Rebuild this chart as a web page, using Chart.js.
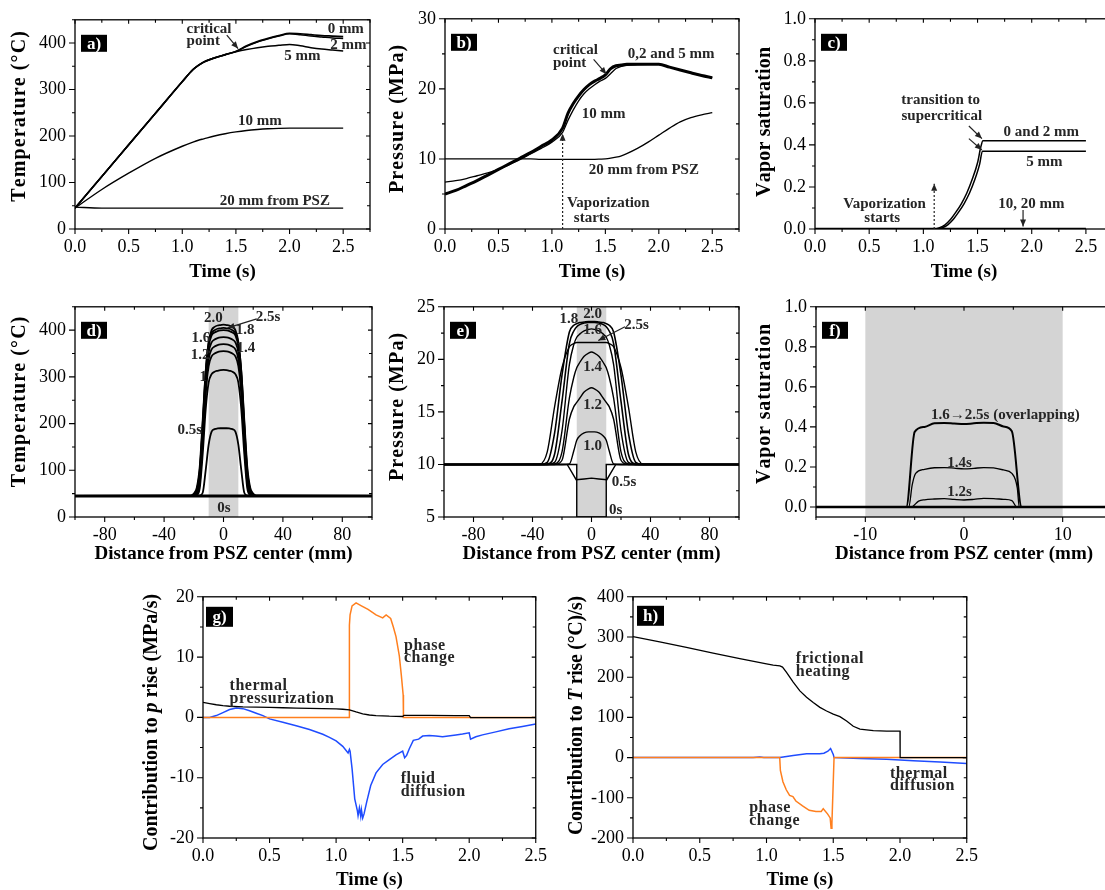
<!DOCTYPE html>
<html>
<head>
<meta charset="utf-8">
<script src="https://cdn.jsdelivr.net/npm/chart.js@4.4.1/dist/chart.umd.min.js"></script>
<style>
  body { margin: 0; background: #fff; width: 1105px; height: 890px; overflow: hidden; position: relative; }
  canvas { position: absolute; }
</style>
</head>
<body>
<canvas id="pa"></canvas><canvas id="pb"></canvas><canvas id="pc"></canvas>
<canvas id="pd"></canvas><canvas id="pe"></canvas><canvas id="pf"></canvas>
<canvas id="pg"></canvas><canvas id="ph"></canvas>
<script>
// ---- a) temperature vs time at several distances from the PSZ
const timeTicks = [0, 0.5, 1.0, 1.5, 2.0, 2.5];
const tA = [0, 0.25, 0.5, 0.75, 1.0, 1.1, 1.15, 1.2, 1.3, 1.4, 1.5, 1.6, 1.7, 1.8, 1.9, 2.0, 2.1, 2.2, 2.3, 2.4, 2.5];
const tempA0 = [45, 113, 181, 249, 317, 343, 352, 359, 368, 375, 382, 394, 403, 410, 416, 421, 420, 418, 416, 415, 414];
const tempA2 = [45, 113, 181, 249, 317, 343, 352, 359, 368, 375, 382, 393, 402, 409, 415, 420, 418, 415, 413, 411, 410];
const tempA5 = [45, 113, 181, 249, 317, 343, 352, 359, 368, 375, 381, 386, 390, 393, 395, 397, 394, 390, 387, 385, 383];
const tempA10 = [45, 85, 120, 152, 178, 187, 191, 194, 200, 205, 209, 212, 214, 215.5, 216.5, 217, 217, 217, 217, 217, 217];
const tempA20 = [47, 45, 45, 45, 45, 45, 45, 45, 45, 45, 45, 45, 45, 45, 45, 45, 45, 45, 45, 45, 45];
const tempTicks = [0, 100, 200, 300, 400];

// ---- b) pressure vs time
const tB = [0, 0.1, 0.2, 0.3, 0.4, 0.5, 0.6, 0.7, 0.8, 0.9, 1.0, 1.1, 1.15, 1.2, 1.25, 1.3, 1.35, 1.4, 1.45, 1.5, 1.55, 1.6, 1.65, 1.7, 1.8, 1.9, 2.0, 2.1, 2.2, 2.3, 2.4, 2.5];
const presB0 = [5.0, 5.5, 6.2, 6.9, 7.7, 8.5, 9.3, 10.1, 10.9, 11.8, 12.7, 14.4, 16.5, 17.9, 19.0, 19.9, 20.6, 21.1, 21.5, 22.0, 22.9, 23.3, 23.4, 23.5, 23.5, 23.5, 23.5, 23.1, 22.7, 22.3, 21.9, 21.6];
const presB10 = [6.7, 6.9, 7.2, 7.6, 8.0, 8.5, 9.2, 9.9, 10.7, 11.5, 12.4, 13.8, 15.5, 17.0, 18.3, 19.3, 20.0, 20.6, 21.1, 21.5, 22.2, 22.9, 23.2, 23.35, 23.45, 23.5, 23.5, 23.1, 22.7, 22.3, 21.9, 21.6];
const presB20 = [10, 10, 10, 10, 10, 10, 10, 10, 10, 9.95, 9.95, 9.95, 9.95, 9.95, 9.95, 9.95, 9.95, 9.95, 9.97, 10.0, 10.1, 10.25, 10.45, 10.75, 11.5, 12.4, 13.4, 14.4, 15.3, 15.9, 16.3, 16.6];
const presTicks = [0, 10, 20, 30];

// ---- c) vapor saturation vs time
const tC0 = [0, 1.1, 1.15, 1.2, 1.25, 1.3, 1.35, 1.4, 1.45, 1.5, 1.53, 1.55, 2.5];
const satC0 = [0, 0, 0.006, 0.02, 0.045, 0.08, 0.12, 0.17, 0.235, 0.315, 0.39, 0.42, 0.42];
const tC5 = [0, 1.125, 1.175, 1.225, 1.275, 1.325, 1.375, 1.425, 1.475, 1.52, 1.545, 2.5];
const satC5 = [0, 0, 0.006, 0.02, 0.045, 0.08, 0.12, 0.17, 0.235, 0.31, 0.37, 0.37];
const tC10 = [0, 2.5];
const satC10 = [0, 0];
const satTicks = [0, 0.2, 0.4, 0.6, 0.8, 1.0];

// ---- d) temperature profiles across the PSZ
const distD = [-100, -22, -20, -18, -16, -14, -12, -10, -8, -6, -4, -2, 0, 2, 4, 6, 8, 10, 12, 14, 16, 18, 20, 22, 100];
const profD00 = [45, 45, 45, 45, 45, 45, 45, 45, 45, 45, 45, 45, 45, 45, 45, 45, 45, 45, 45, 45, 45, 45, 45, 45, 45];
const profD05 = [45, 45, 45, 45, 46, 52, 100, 155, 183, 188, 189.5, 190, 190, 190, 189.5, 188, 183, 155, 100, 52, 46, 45, 45, 45, 45];
const profD10 = [45, 45, 45, 47, 62, 135, 230, 288, 306, 311, 313, 314.5, 315, 314.5, 313, 311, 306, 288, 230, 135, 62, 47, 45, 45, 45];
const profD12 = [45, 45, 46, 49, 72, 160, 262, 323, 344, 350, 353, 354.5, 355, 354.5, 353, 350, 344, 323, 262, 160, 72, 49, 46, 45, 45];
const profD14 = [45, 45, 46, 51, 80, 172, 276, 338, 359, 365, 368, 369.5, 370, 369.5, 368, 365, 359, 338, 276, 172, 80, 51, 46, 45, 45];
const profD16 = [45, 45, 47, 54, 88, 182, 288, 352, 374, 380, 383, 384.5, 385, 384.5, 383, 380, 374, 352, 288, 182, 88, 54, 47, 45, 45];
const profD18 = [45, 45, 47, 56, 95, 192, 300, 365, 389, 395, 398, 399.5, 400, 399.5, 398, 395, 389, 365, 300, 192, 95, 56, 47, 45, 45];
const profD20 = [45, 45, 48, 58, 100, 200, 310, 375, 400, 407, 410, 411, 412, 411, 410, 407, 400, 375, 310, 200, 100, 58, 48, 45, 45];
const profD25 = [45, 46, 50, 63, 108, 208, 312, 372, 394, 400, 403, 404, 405, 404, 403, 400, 394, 372, 312, 208, 108, 63, 50, 46, 45];
const distTicks = [-80, -40, 0, 40, 80];
const pszBand = [-10, 10];

// ---- e) pressure profiles across the PSZ
const distE = [-100, -35, -30, -25, -20, -15, -12, -10, -8, -5, -2, 0, 2, 5, 8, 10, 12, 15, 20, 25, 30, 35, 100];
const profE10 = [10, 10, 10, 10, 10, 10.05, 11.3, 12.3, 12.7, 13.0, 13.1, 13.1, 13.1, 13.0, 12.7, 12.3, 11.3, 10.05, 10, 10, 10, 10, 10];
const profE12 = [10, 10, 10, 10, 10.4, 14.3, 15.5, 15.9, 16.3, 16.9, 17.2, 17.3, 17.2, 16.9, 16.3, 15.9, 15.5, 14.3, 10.4, 10, 10, 10, 10];
const profE14 = [10, 10, 10, 10.05, 11.2, 16.3, 18.3, 19.2, 19.7, 20.3, 20.6, 20.7, 20.6, 20.3, 19.7, 19.2, 18.3, 16.3, 11.2, 10.05, 10, 10, 10];
const profE16 = [10, 10, 10, 10.2, 13.2, 19.5, 21.4, 22.1, 22.4, 22.7, 22.85, 22.9, 22.85, 22.7, 22.4, 22.1, 21.4, 19.5, 13.2, 10.2, 10, 10, 10];
const profE18 = [10, 10, 10.05, 11.0, 16.0, 21.5, 22.7, 23.1, 23.3, 23.45, 23.5, 23.5, 23.5, 23.45, 23.3, 23.1, 22.7, 21.5, 16.0, 11.0, 10.05, 10, 10];
const profE20 = [10, 10, 10.2, 13.0, 18.5, 22.6, 23.25, 23.4, 23.5, 23.55, 23.6, 23.6, 23.6, 23.55, 23.5, 23.4, 23.25, 22.6, 18.5, 13.0, 10.2, 10, 10];
const profE25 = [10, 10.05, 11.2, 15.5, 19.2, 21.2, 21.5, 21.6, 21.6, 21.6, 21.6, 21.6, 21.6, 21.6, 21.6, 21.6, 21.5, 21.2, 19.2, 15.5, 11.2, 10.05, 10];
const distE05 = [-100, -16.5, -13.5, -10.4, -5, 0, 5, 10.4, 13.5, 16.5, 100];
const profE05 = [10, 10, 9.3, 8.55, 8.62, 8.7, 8.62, 8.55, 9.3, 10, 10];
const distE00 = [-100, -10, -10, 10, 10, 100];
const profE00 = [10, 10, 5, 5, 10, 10];
const presTicksE = [5, 10, 15, 20, 25];

// ---- f) vapor saturation profiles
const distF16 = [-15, -5.85, -5.0, -4.0, -3.0, -2.0, -1.0, 0, 1.0, 2.0, 3.0, 4.0, 4.85, 5.85, 15];
const satF16 = [0, 0, 0.375, 0.4, 0.418, 0.42, 0.417, 0.414, 0.418, 0.421, 0.42, 0.402, 0.378, 0, 0];
const distF14 = [-15, -5.6, -5.25, -4.9, -4, -3, -2, -1, 0, 1, 2, 3, 4, 4.85, 5.4, 5.6, 15];
const satF14 = [0, 0, 0.11, 0.168, 0.188, 0.196, 0.197, 0.194, 0.19, 0.193, 0.197, 0.195, 0.185, 0.168, 0.096, 0, 0];
const distF12 = [-15, -5.35, -4.6, -4, -3, -2, -1, 0, 1, 2, 3, 4, 4.85, 5.35, 15];
const satF12 = [0, 0, 0.029, 0.036, 0.04, 0.042, 0.038, 0.035, 0.038, 0.043, 0.042, 0.038, 0.032, 0, 0];
const distF00 = [-15, 15];
const satF00 = [0, 0];
const distTicksF = [-10, 0, 10];

// ---- g) contributions to pressure rise
const tThermG = [0, 0.05, 0.1, 0.15, 0.2, 0.3, 0.4, 0.5, 0.6, 0.7, 0.8, 0.9, 1.0, 1.05, 1.1, 1.15, 1.2, 1.25, 1.3, 1.4, 1.5, 1.51, 1.7, 1.9, 2.0, 2.01, 2.2, 2.5];
const thermG = [2.5, 2.3, 2.1, 1.95, 1.85, 1.75, 1.7, 1.65, 1.6, 1.55, 1.5, 1.45, 1.4, 1.35, 1.25, 0.9, 0.6, 0.4, 0.3, 0.2, 0.15, 0.35, 0.35, 0.3, 0.3, -0.05, -0.05, -0.05];
const tPhaseG = [0, 1.098, 1.1, 1.105, 1.12, 1.15, 1.19, 1.24, 1.3, 1.35, 1.376, 1.41, 1.43, 1.45, 1.475, 1.49, 1.504, 1.506, 2.5];
const phaseG = [0, 0, 15.3, 17.0, 18.5, 19.0, 18.5, 17.9, 17.0, 16.5, 17.0, 16.4, 15.0, 13.4, 10.2, 7.0, 3.7, 0, 0];
const tFluidG = [0, 0.05, 0.1, 0.15, 0.2, 0.25, 0.3, 0.35, 0.4, 0.45, 0.5, 0.6, 0.7, 0.8, 0.9, 0.95, 1.0, 1.05, 1.09, 1.1, 1.105, 1.12, 1.14, 1.16, 1.165, 1.175, 1.185, 1.19, 1.2, 1.21, 1.23, 1.26, 1.3, 1.35, 1.4, 1.45, 1.5, 1.515, 1.53, 1.55, 1.58, 1.62, 1.65, 1.7, 1.75, 1.8, 1.9, 1.95, 2.0, 2.01, 2.05, 2.1, 2.2, 2.3, 2.4, 2.5];
const fluidG = [0, 0, 0.3, 0.8, 1.3, 1.55, 1.45, 1.1, 0.7, 0.3, -0.25, -0.8, -1.4, -2.0, -2.8, -3.3, -3.9, -4.8, -5.9, -5.3, -5.6, -8.5, -13.5, -15.5, -16.3, -15.0, -16.4, -15.3, -16.7, -16.0, -14.0, -11.3, -9.2, -7.8, -7.0, -6.2, -5.6, -6.7, -6.3, -5.2, -3.8, -3.6, -3.1, -3.0, -3.1, -3.2, -2.9, -2.75, -2.55, -3.6, -3.2, -2.9, -2.4, -1.9, -1.5, -1.1];
const rateTicksG = [-20, -10, 0, 10, 20];

// ---- h) contributions to temperature rise
const tFricH = [0, 0.2, 0.4, 0.6, 0.8, 1.0, 1.05, 1.1, 1.12, 1.15, 1.2, 1.25, 1.3, 1.35, 1.4, 1.45, 1.5, 1.55, 1.6, 1.65, 1.7, 1.8, 1.9, 2.0, 2.001, 2.5];
const fricH = [301, 288, 274, 260, 246, 233, 230, 228, 225, 212, 188, 166, 150, 137, 125, 116, 108, 102, 91, 78, 71, 67, 66, 66, 0, 0];
const tPhaseH = [0, 1.099, 1.104, 1.123, 1.148, 1.173, 1.198, 1.22, 1.27, 1.32, 1.37, 1.41, 1.425, 1.457, 1.477, 1.484, 1.49, 1.506, 2.5];
const phaseH = [0, 0, -32, -60, -80, -94, -97, -108, -120, -131, -134, -134, -127, -140, -150, -176, -164, 0, 0];
const tDiffH = [0, 0.5, 0.9, 0.95, 0.98, 1.0, 1.1, 1.2, 1.3, 1.4, 1.43, 1.46, 1.48, 1.5, 1.506, 1.7, 1.9, 2.1, 2.3, 2.5];
const diffH = [0, 0, 0, 1.5, 0.5, 0, 0, 5.5, 9.5, 9.6, 11, 16, 22.5, 8, 0, -2, -4, -8, -11, -14.5];
const rateTicksH = [-200, -100, 0, 100, 200, 300, 400];

const SERIF = "'Liberation Serif', 'Times New Roman', serif";
const ORANGE = '#ff7f1e';
const BLUE = '#1f4cff';

function xy(xs, ys) {
    return xs.map((x, i) => ({x: x, y: ys[i]}));
}

function line(xs, ys, color, width, smooth) {
    return {
        data: xy(xs, ys),
        borderColor: color,
        borderWidth: width,
        pointRadius: 0,
        fill: false,
        tension: 0,
        cubicInterpolationMode: smooth ? 'monotone' : 'default'
    };
}

function minors(vals, min, max) {
    const out = [];
    const step = vals[1] - vals[0];
    for (let v = vals[0] - step / 2; v <= max + 1e-9; v += step) {
        if (v >= min - 1e-9) out.push(v);
    }
    return out;
}

// draws text char by char so letter spacing can be set
function spaced(ctx, text, x, y, gap, align) {
    if (!gap) {
        ctx.textAlign = align;
        ctx.fillText(text, x, y);
        return;
    }
    const chars = [...text];
    const w = chars.reduce((s, c) => s + ctx.measureText(c).width, 0) + gap * (chars.length - 1);
    let cx = align === 'center' ? x - w / 2 : (align === 'right' ? x - w : x);
    ctx.textAlign = 'left';
    chars.forEach(c => {
        ctx.fillText(c, cx, y);
        cx += ctx.measureText(c).width + gap;
    });
}

// rotated title made of segments, some italic, stretched a little towards a given length
function drawTitle(ctx, segs, len) {
    const parts = [];
    segs.forEach(s => {
        const font = (s.it ? 'italic bold 20px ' : 'bold 20px ') + SERIF;
        ctx.font = font;
        [...s.t].forEach(c => parts.push({c: c, font: font, w: ctx.measureText(c).width}));
    });
    const natural = parts.reduce((s, p) => s + p.w, 0);
    let gap = len ? (len - natural) / (parts.length - 1) : 0;
    gap = Math.max(-0.3, Math.min(gap, 1.1));
    let cx = -(natural + gap * (parts.length - 1)) / 2;
    ctx.textAlign = 'left';
    parts.forEach(p => {
        ctx.font = p.font;
        ctx.fillText(p.c, cx, 0);
        cx += p.w + gap;
    });
}

const deco = {
    id: 'deco',
    beforeDatasetsDraw(chart, args, o) {
        if (!o.band) return;
        const {ctx, chartArea: ca} = chart;
        const sx = chart.scales.x;
        const x1 = Math.max(sx.getPixelForValue(o.band[0]), ca.left);
        const x2 = Math.min(sx.getPixelForValue(o.band[1]), ca.right);
        ctx.save();
        ctx.fillStyle = '#d4d4d4';
        ctx.fillRect(x1, ca.top, x2 - x1, ca.bottom - ca.top);
        ctx.restore();
    },
    afterDraw(chart, args, o) {
        const {ctx, chartArea: ca} = chart;
        const sx = chart.scales.x, sy = chart.scales.y;
        ctx.save();
        // frame
        ctx.strokeStyle = '#000';
        ctx.lineWidth = 1.3;
        ctx.strokeRect(ca.left, ca.top, ca.right - ca.left, ca.bottom - ca.top);
        // tick marks: outward on bottom/left, inward on top/right
        const xMaj = sx.ticks.map(t => t.value), yMaj = sy.ticks.map(t => t.value);
        ctx.lineWidth = 1.1;
        ctx.beginPath();
        xMaj.forEach(v => {
            const p = sx.getPixelForValue(v);
            ctx.moveTo(p, ca.bottom); ctx.lineTo(p, ca.bottom + 5);
            ctx.moveTo(p, ca.top); ctx.lineTo(p, ca.top + 4);
        });
        minors(xMaj, sx.min, sx.max).forEach(v => {
            const p = sx.getPixelForValue(v);
            ctx.moveTo(p, ca.bottom); ctx.lineTo(p, ca.bottom + 3);
            ctx.moveTo(p, ca.top); ctx.lineTo(p, ca.top + 3);
        });
        yMaj.forEach(v => {
            const p = sy.getPixelForValue(v);
            ctx.moveTo(ca.left, p); ctx.lineTo(ca.left - 6, p);
            ctx.moveTo(ca.right, p); ctx.lineTo(ca.right - 4, p);
        });
        minors(yMaj, sy.min, sy.max).forEach(v => {
            const p = sy.getPixelForValue(v);
            ctx.moveTo(ca.left, p); ctx.lineTo(ca.left - 3, p);
            ctx.moveTo(ca.right, p); ctx.lineTo(ca.right - 3, p);
        });
        ctx.stroke();

        // panel tag
        const [dx, dy, bw, bh] = o.box;
        ctx.fillStyle = '#000';
        ctx.fillRect(ca.left + dx, ca.top + dy, bw, bh);
        ctx.fillStyle = '#fff';
        ctx.font = 'bold 17px ' + SERIF;
        ctx.textAlign = 'center';
        ctx.textBaseline = 'middle';
        ctx.fillText(o.tag, ca.left + dx + bw / 2, ca.top + dy + bh / 2 + 1);

        // arrows
        ctx.strokeStyle = '#222';
        ctx.fillStyle = '#222';
        ctx.lineWidth = 1.2;
        (o.arrows || []).forEach(a => {
            const x1 = sx.getPixelForValue(a.x1), y1 = sy.getPixelForValue(a.y1);
            const x2 = sx.getPixelForValue(a.x2), y2 = sy.getPixelForValue(a.y2);
            ctx.setLineDash(a.dash ? [2, 2] : []);
            ctx.beginPath(); ctx.moveTo(x1, y1); ctx.lineTo(x2, y2); ctx.stroke();
            ctx.setLineDash([]);
            const ang = Math.atan2(y2 - y1, x2 - x1), L = 7, W = 3;
            const c = Math.cos(ang), s = Math.sin(ang);
            ctx.beginPath();
            ctx.moveTo(x2, y2);
            ctx.lineTo(x2 - L * c + W * s, y2 - L * s - W * c);
            ctx.lineTo(x2 - L * c - W * s, y2 - L * s + W * c);
            ctx.closePath();
            ctx.fill();
        });

        // curve labels
        ctx.fillStyle = '#262626';
        ctx.font = 'bold ' + o.noteSize + 'px ' + SERIF;
        ctx.textBaseline = 'middle';
        (o.notes || []).forEach(n => {
            spaced(ctx, n.t, sx.getPixelForValue(n.x), sy.getPixelForValue(n.y), o.noteGap || 0, n.a || 'left');
        });

        // axis titles
        ctx.fillStyle = '#000';
        ctx.font = 'bold 19px ' + SERIF;
        spaced(ctx, o.xTitle, (ca.left + ca.right) / 2, ca.bottom + o.xOff, o.xGap || 0, 'center');
        ctx.translate(ca.left - o.yOff, (ca.top + ca.bottom) / 2 + o.yShift);
        ctx.rotate(-Math.PI / 2);
        drawTitle(ctx, o.yTitle, o.yLen);
        ctx.restore();
    }
};

function makePanel(id, rect, sc, datasets, dec) {
    const cv = document.getElementById(id);
    const W = rect.r - rect.l + 75 + 14, H = rect.b - rect.t + 12 + 62;
    cv.width = W; cv.height = H;
    cv.style.width = W + 'px'; cv.style.height = H + 'px';
    cv.style.left = (rect.l - 75) + 'px';
    cv.style.top = (rect.t - 12) + 'px';
    const tickFont = {family: SERIF, size: 18};
    new Chart(cv, {
        type: 'line',
        data: {datasets: datasets},
        options: {
            responsive: false,
            animation: false,
            events: [],
            layout: {padding: {left: 15, top: 12, right: 14, bottom: 32}},
            plugins: {legend: {display: false}, tooltip: {enabled: false}, deco: dec},
            scales: {
                x: {
                    type: 'linear', min: sc.xmin, max: sc.xmax,
                    afterBuildTicks: s => { s.ticks = sc.xticks.map(v => ({value: v})); },
                    afterFit: s => { s.height = 30; },
                    grid: {display: false, drawTicks: false},
                    border: {display: false},
                    ticks: {font: tickFont, color: '#000', padding: 7, maxRotation: 0, autoSkip: false, callback: sc.xfmt}
                },
                y: {
                    type: 'linear', min: sc.ymin, max: sc.ymax,
                    afterBuildTicks: s => { s.ticks = sc.yticks.map(v => ({value: v})); },
                    afterFit: s => { s.width = 60; },
                    grid: {display: false, drawTicks: false},
                    border: {display: false},
                    ticks: {font: tickFont, color: '#000', padding: 9, autoSkip: false, callback: sc.yfmt}
                }
            }
        },
        plugins: [deco]
    });
}

const f1 = v => v.toFixed(1);
const f0 = v => String(v);
const boxTop = [6, 15, 26, 17];
const boxLow = [3, 10, 27, 20];

// a)
makePanel('pa', {l: 75, t: 12, r: 370, b: 229},
    {xmin: 0, xmax: 2.75, xticks: timeTicks, xfmt: f1, ymin: 0, ymax: 450, yticks: tempTicks, yfmt: f0},
    [line(tA, tempA20, '#000', 1.4, true), line(tA, tempA10, '#000', 1.4, true),
     line(tA, tempA5, '#000', 1.5, true), line(tA, tempA2, '#000', 1.5, true), line(tA, tempA0, '#000', 1.7, true)],
    {tag: 'a)', box: boxTop, xTitle: 'Time (s)', xOff: 43, yTitle: [{t: 'Temperature (°C)'}], yLen: 175, yOff: 55, yShift: -8,
     noteSize: 15,
     notes: [{t: 'critical', x: 1.04, y: 431}, {t: 'point', x: 1.04, y: 404}, {t: '0 mm', x: 2.355, y: 429},
             {t: '2 mm', x: 2.38, y: 396}, {t: '5 mm', x: 1.95, y: 371}, {t: '10 mm', x: 1.52, y: 232},
             {t: '20 mm from PSZ', x: 1.35, y: 60}],
     arrows: [{x1: 1.415, y1: 417, x2: 1.52, y2: 388}]});

// b)
makePanel('pb', {l: 445, t: 11, r: 739, b: 229},
    {xmin: 0, xmax: 2.75, xticks: timeTicks, xfmt: f1, ymin: 0, ymax: 30, yticks: presTicks, yfmt: f0},
    [line(tB, presB20, '#000', 1.3, true), line(tB, presB10, '#000', 1.3, true), line(tB, presB0, '#000', 3, true)],
    {tag: 'b)', box: boxTop, xTitle: 'Time (s)', xOff: 43, yTitle: [{t: 'Pressure (MPa)'}], yLen: 160, yOff: 47, yShift: -5,
     noteSize: 15,
     notes: [{t: 'critical', x: 1.01, y: 25.6}, {t: 'point', x: 1.01, y: 23.7}, {t: '0,2 and 5 mm', x: 1.71, y: 24.9},
             {t: '10 mm', x: 1.28, y: 16.4}, {t: '20 mm from PSZ', x: 1.345, y: 8.4},
             {t: 'Vaporization', x: 1.14, y: 3.7}, {t: 'starts', x: 1.205, y: 1.5}],
     arrows: [{x1: 1.39, y1: 24.2, x2: 1.51, y2: 22.1}, {x1: 1.1, y1: 0, x2: 1.1, y2: 13.6, dash: true}]});

// c)
makePanel('pc', {l: 815, t: 11, r: 1113, b: 229},
    {xmin: 0, xmax: 2.75, xticks: timeTicks, xfmt: f1, ymin: 0, ymax: 1.0, yticks: satTicks, yfmt: f1},
    [line(tC10, satC10, '#000', 2.5, false), line(tC5, satC5, '#000', 1.5, true), line(tC0, satC0, '#000', 1.5, true)],
    {tag: 'c)', box: boxTop, xTitle: 'Time (s)', xOff: 43, yTitle: [{t: 'Vapor saturation'}], yLen: 150, yOff: 50, yShift: -2,
     noteSize: 15,
     notes: [{t: 'transition to', x: 1.16, y: 0.615, a: 'center'}, {t: 'supercritical', x: 1.17, y: 0.537, a: 'center'},
             {t: '0 and 2 mm', x: 1.74, y: 0.463}, {t: '5 mm', x: 1.95, y: 0.317},
             {t: 'Vaporization', x: 0.26, y: 0.12}, {t: 'starts', x: 0.455, y: 0.05},
             {t: '10, 20 mm', x: 1.69, y: 0.12}],
     arrows: [{x1: 1.42, y1: 0.49, x2: 1.54, y2: 0.43}, {x1: 1.42, y1: 0.43, x2: 1.54, y2: 0.376},
              {x1: 1.1, y1: 0, x2: 1.1, y2: 0.215, dash: true}, {x1: 1.92, y1: 0.09, x2: 1.92, y2: 0.012}]});

// d)
makePanel('pd', {l: 75, t: 299, r: 372, b: 517},
    {xmin: -100, xmax: 100, xticks: distTicks, xfmt: f0, ymin: 0, ymax: 450, yticks: tempTicks, yfmt: f0},
    [line(distD, profD00, '#000', 3, false), line(distD, profD05, '#000', 1.8, true), line(distD, profD10, '#000', 1.8, true),
     line(distD, profD12, '#000', 1.8, true), line(distD, profD14, '#000', 1.8, true), line(distD, profD16, '#000', 1.8, true),
     line(distD, profD18, '#000', 1.8, true), line(distD, profD20, '#000', 1.8, true), line(distD, profD25, '#000', 1.8, true)],
    {tag: 'd)', box: boxTop, band: pszBand, xTitle: 'Distance from PSZ center (mm)', xOff: 37,
     yTitle: [{t: 'Temperature (°C)'}], yLen: 180, yOff: 55, yShift: -10, noteSize: 15,
     notes: [{t: '2.0', x: -6.9, y: 425, a: 'center'}, {t: '2.5s', x: 30, y: 427, a: 'center'}, {t: '1.8', x: 14.5, y: 400, a: 'center'},
             {t: '1.6', x: -15.2, y: 382, a: 'center'}, {t: '1.4', x: 15, y: 362, a: 'center'}, {t: '1.2', x: -15.8, y: 346, a: 'center'},
             {t: '1', x: -13.6, y: 299, a: 'center'}, {t: '0.5s', x: -22.7, y: 185, a: 'center'}, {t: '0s', x: 0.3, y: 19, a: 'center'}],
     arrows: [{x1: 22.4, y1: 424, x2: 2.8, y2: 405}]});

// e)
makePanel('pe', {l: 444, t: 299, r: 739, b: 517},
    {xmin: -100, xmax: 100, xticks: distTicks, xfmt: f0, ymin: 5, ymax: 25, yticks: presTicksE, yfmt: f0},
    [line(distE00, profE00, '#000', 1.4, false), line(distE05, profE05, '#000', 1.4, false),
     line(distE, profE10, '#000', 1.4, true), line(distE, profE12, '#000', 1.4, true), line(distE, profE14, '#000', 1.4, true),
     line(distE, profE16, '#000', 1.4, true), line(distE, profE18, '#000', 1.6, true), line(distE, profE20, '#000', 1.6, true),
     line(distE, profE25, '#000', 1.4, true)],
    {tag: 'e)', box: boxTop, band: pszBand, xTitle: 'Distance from PSZ center (mm)', xOff: 37,
     yTitle: [{t: 'Pressure (MPa)'}], yLen: 160, yOff: 46, yShift: -5, noteSize: 15,
     notes: [{t: '1.8', x: -15.3, y: 23.8, a: 'center'}, {t: '2.0', x: 0.8, y: 24.3, a: 'center'}, {t: '1.6', x: 0.8, y: 22.8, a: 'center'},
             {t: '2.5s', x: 30.6, y: 23.3, a: 'center'}, {t: '1.4', x: 0.8, y: 19.25, a: 'center'}, {t: '1.2', x: 0.8, y: 15.6, a: 'center'},
             {t: '1.0', x: 0.8, y: 11.7, a: 'center'}, {t: '0.5s', x: 22, y: 8.3, a: 'center'}, {t: '0s', x: 16.4, y: 5.7, a: 'center'}],
     arrows: [{x1: 22.7, y1: 23.1, x2: 4.6, y2: 21.8}]});

// f)
makePanel('pf', {l: 816, t: 299, r: 1112, b: 517},
    {xmin: -15, xmax: 15, xticks: distTicksF, xfmt: f0, ymin: -0.05, ymax: 1.0, yticks: satTicks, yfmt: f1},
    [line(distF00, satF00, '#000', 2.4, false), line(distF12, satF12, '#000', 1.3, true),
     line(distF14, satF14, '#000', 1.3, true), line(distF16, satF16, '#000', 2, true)],
    {tag: 'f)', box: boxTop, band: pszBand, xTitle: 'Distance from PSZ center (mm)', xOff: 37,
     yTitle: [{t: 'Vapor saturation'}], yLen: 160, yOff: 51, yShift: -8, noteSize: 15,
     notes: [{t: '1.6\u21922.5s (overlapping)', x: 4.2, y: 0.46, a: 'center'}, {t: '1.4s', x: -0.45, y: 0.218, a: 'center'},
             {t: '1.2s', x: -0.45, y: 0.074, a: 'center'}]});

// g)
makePanel('pg', {l: 203, t: 589, r: 540, b: 838},
    {xmin: 0, xmax: 2.5, xticks: timeTicks, xfmt: f1, ymin: -20, ymax: 20, yticks: rateTicksG, yfmt: f0},
    [line(tThermG, thermG, '#000', 1.3, false), line(tPhaseG, phaseG, ORANGE, 1.5, false), line(tFluidG, fluidG, BLUE, 1.5, false)],
    {tag: 'g)', box: boxLow, xTitle: 'Time (s)', xOff: 42,
     yTitle: [{t: 'Contribution to '}, {t: 'p', it: true}, {t: ' rise (MPa/s)'}], yLen: 257, yOff: 51, yShift: 5,
     noteSize: 16, noteGap: 0.5,
     notes: [{t: 'thermal', x: 0.2, y: 5.3}, {t: 'pressurization', x: 0.2, y: 3.05}, {t: 'phase', x: 1.51, y: 11.9},
             {t: 'change', x: 1.51, y: 9.85}, {t: 'fluid', x: 1.486, y: -10.2}, {t: 'diffusion', x: 1.486, y: -12.4}]});

// h)
makePanel('ph', {l: 633, t: 589, r: 971, b: 838},
    {xmin: 0, xmax: 2.5, xticks: timeTicks, xfmt: f1, ymin: -200, ymax: 400, yticks: rateTicksH, yfmt: f0},
    [line(tFricH, fricH, '#000', 1.3, false), line(tPhaseH, phaseH, ORANGE, 1.5, false), line(tDiffH, diffH, BLUE, 1.5, false)],
    {tag: 'h)', box: [4, 9, 27, 20], xTitle: 'Time (s)', xOff: 42,
     yTitle: [{t: 'Contribution to '}, {t: 'T', it: true}, {t: ' rise (°C)/s)'}], yLen: 225, yOff: 56, yShift: -2,
     noteSize: 16, noteGap: 0.5,
     notes: [{t: 'frictional', x: 1.22, y: 245}, {t: 'heating', x: 1.22, y: 213}, {t: 'thermal', x: 1.925, y: -40},
             {t: 'diffusion', x: 1.925, y: -71}, {t: 'phase', x: 0.87, y: -124.5}, {t: 'change', x: 0.87, y: -157}]});
</script>
</body>
</html>
